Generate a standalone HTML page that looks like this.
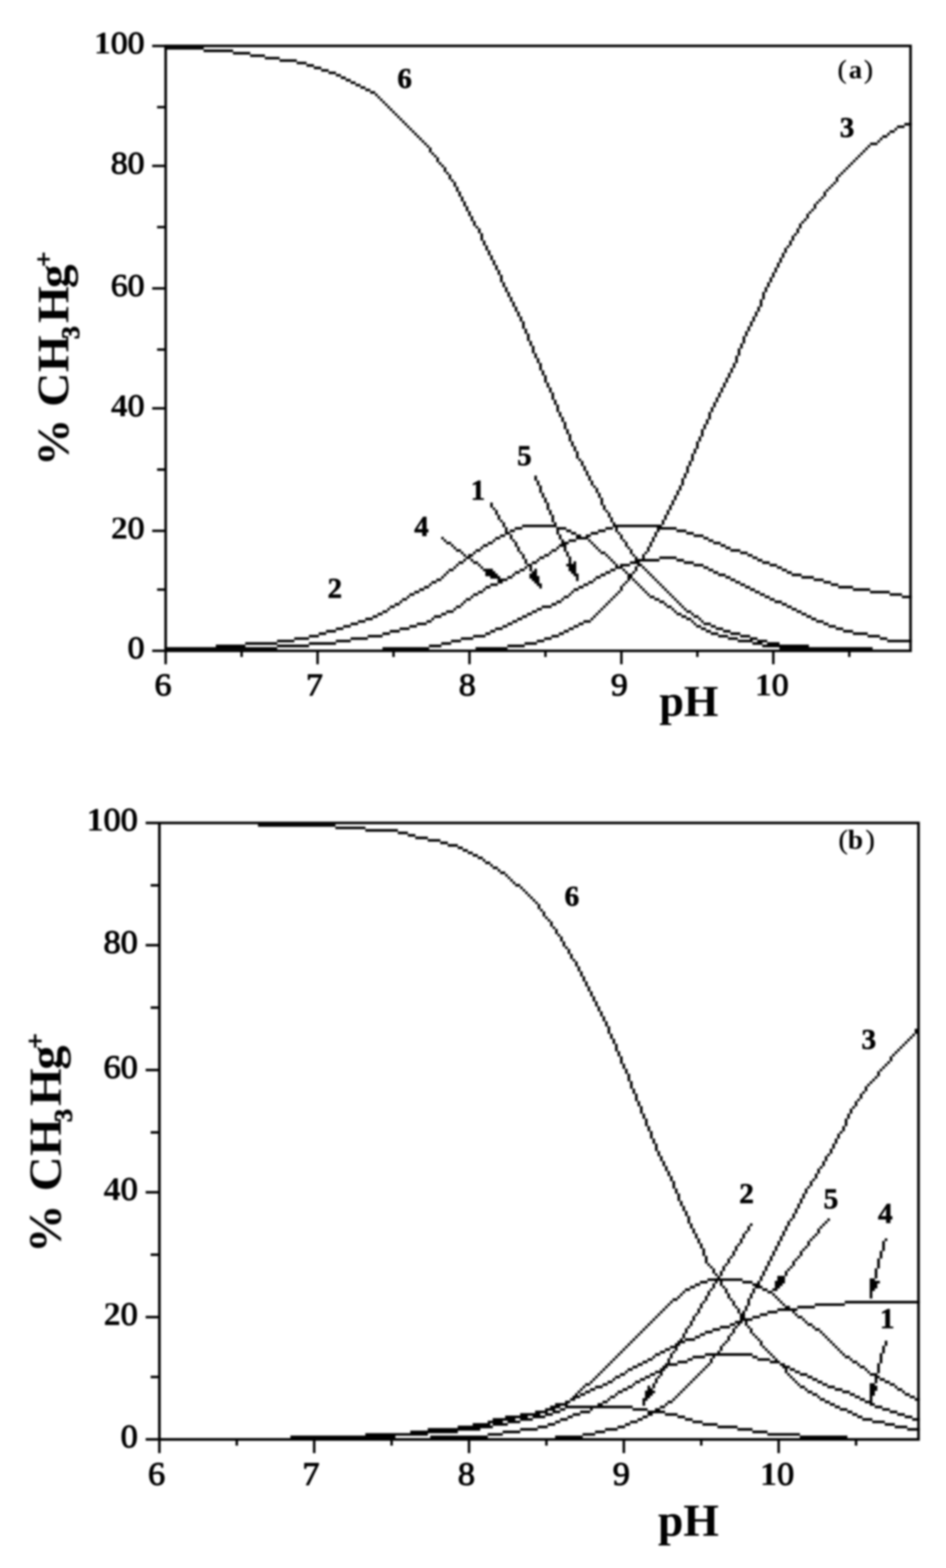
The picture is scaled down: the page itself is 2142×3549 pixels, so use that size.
<!DOCTYPE html>
<html lang="en"><head><meta charset="utf-8"><title>Species distribution of CH3Hg+ versus pH</title>
<style>html,body{margin:0;padding:0;background:#fff}body{width:2142px;height:3549px;overflow:hidden}svg{display:block}text{font-family:'Liberation Serif', 'DejaVu Serif', serif;font-weight:bold;fill:#000}.l{font-weight:normal;stroke:#000;stroke-width:2.2;stroke-linejoin:round}.n{font-weight:normal}.s{stroke:#000;stroke-width:1.5}.c{stroke:#000;stroke-width:1.2}.p{font-weight:normal;stroke:#000;stroke-width:1.0}</style>
</head><body>
<svg xmlns="http://www.w3.org/2000/svg" width="2142" height="3549" viewBox="0 0 2142 3549">
<defs><filter id="bl" x="0" y="0" width="2142" height="3549" filterUnits="userSpaceOnUse" color-interpolation-filters="sRGB"><feGaussianBlur stdDeviation="2.0"/></filter></defs>
<rect width="2142" height="3549" fill="#fff"/>
<g filter="url(#bl)">
<g id="chart-a">
<path d="M372.18 100.98h1692.44v5.84h-1692.44zM372.18 1470.17h1692.44v5.84h-1692.44zM372.18 100.98h5.85v1375.04h-5.85zM2058.77 100.98h5.85v1375.04h-5.85zM344.59 101.13h27.74v5.54h-27.74zM355.68 239.71h16.64v5.54h-16.64zM344.59 372.75h27.74v5.54h-27.74zM355.68 511.33h16.64v5.54h-16.64zM344.59 649.92h27.74v5.54h-27.74zM355.68 788.5h16.64v5.54h-16.64zM344.59 921.54h27.74v5.54h-27.74zM355.68 1060.12h16.64v5.54h-16.64zM344.59 1198.7h27.74v5.54h-27.74zM355.68 1331.74h16.64v5.54h-16.64zM344.59 1470.32h27.74v5.54h-27.74zM372.33 1475.87h5.55v27.72h-5.55zM544.31 1475.87h5.55v11.09h-5.55zM716.3 1475.87h5.55v27.72h-5.55zM888.29 1475.87h5.55v11.09h-5.55zM1060.28 1475.87h5.55v27.72h-5.55zM1232.27 1475.87h5.55v11.09h-5.55zM1404.25 1475.87h5.55v27.72h-5.55zM1576.24 1475.87h5.55v11.09h-5.55zM1748.23 1475.87h5.55v27.72h-5.55zM1920.22 1475.87h5.55v11.09h-5.55z" fill="#000"/>
<path d="M871.5 234.02h5.85v5.84h-5.85zM488.68 1459.09h66.88v5.84h-66.88zM627.38 1459.09h72.42v5.84h-72.42zM971.36 1459.09h28.04v5.84h-28.04zM1148.9 1459.09h39.14v5.84h-39.14zM1725.89 1459.09h105.71v5.84h-105.71zM632.93 134.24h39.14v5.84h-39.14zM1298.69 1010.08h5.85v11.39h-5.85zM1576.09 998.99h5.85v16.93h-5.85zM1010.2 389.23h5.85v5.84h-5.85zM1010.2 1292.79h5.85v5.84h-5.85zM1165.54 1292.79h11.4v5.84h-11.4zM1370.82 1292.79h11.4v5.84h-11.4zM1415.2 1226.27h5.85v11.39h-5.85zM1415.2 1292.79h5.85v5.84h-5.85zM1415.2 1314.96h5.85v5.84h-5.85zM1431.84 1253.98h5.85v5.84h-5.85zM1431.84 1292.79h5.85v5.84h-5.85zM1431.84 1309.42h5.85v5.84h-5.85zM1465.13 1237.35h5.85v11.39h-5.85zM1465.13 1292.79h5.85v5.84h-5.85zM1465.13 1342.68h5.85v5.84h-5.85zM1614.93 1292.79h11.4v5.84h-11.4zM1781.37 1292.79h11.4v5.84h-11.4zM1781.37 1370.39h11.4v5.84h-11.4zM1165.54 1193.01h16.94v5.84h-16.94zM1259.86 1193.01h22.49v5.84h-22.49zM1370.82 1193.01h16.94v5.84h-16.94zM1393.01 1193.01h5.85v11.39h-5.85zM1393.01 1276.16h5.85v5.84h-5.85zM1393.01 1342.68h5.85v5.84h-5.85zM1487.32 1193.01h44.68v5.84h-44.68zM555.26 1453.54h72.42v5.84h-72.42zM699.51 1453.54h61.33v5.84h-61.33zM999.1 1453.54h22.49v5.84h-22.49zM1187.73 1453.54h28.04v5.84h-28.04zM1703.7 1453.54h22.49v5.84h-22.49zM1736.98 1453.54h28.04v5.84h-28.04zM1182.18 1187.47h77.97v5.84h-77.97zM1387.46 1187.47h111.26v5.84h-111.26zM877.04 239.56h5.85v5.84h-5.85zM877.04 1375.94h5.85v5.84h-5.85zM999.1 372.6h5.85v5.84h-5.85zM999.1 1303.87h5.85v5.84h-5.85zM1148.9 1303.87h11.4v5.84h-11.4zM1148.9 1409.2h11.4v5.84h-11.4zM1348.62 1303.87h11.4v5.84h-11.4zM1420.75 1298.33h11.4v11.39h-11.4zM1476.23 1215.18h5.85v11.39h-5.85zM1476.23 1303.87h5.85v5.84h-5.85zM1642.67 1237.35h11.4v5.84h-11.4zM1642.67 1303.87h11.4v5.84h-11.4zM1814.66 1303.87h28.04v5.84h-28.04zM372.18 1464.63h255.51v5.84h-255.51zM865.95 1464.63h105.71v5.84h-105.71zM1076.77 1464.63h72.42v5.84h-72.42zM1764.72 1464.63h211.12v5.84h-211.12zM527.52 117.61h39.14v5.84h-39.14zM1015.74 394.77h5.85v11.39h-5.85zM1892.33 400.32h5.85v11.39h-5.85zM827.11 1398.11h16.94v5.84h-16.94zM976.91 344.88h5.85v5.84h-5.85zM976.91 1398.11h5.85v5.84h-5.85zM1171.09 1398.11h11.4v5.84h-11.4zM1337.53 1087.69h5.85v11.39h-5.85zM1337.53 1226.27h5.85v5.84h-5.85zM1337.53 1398.11h5.85v5.84h-5.85zM1553.9 1381.48h11.4v5.84h-11.4zM1553.9 1398.11h11.4v5.84h-11.4zM1581.64 987.91h5.85v11.39h-5.85zM1581.64 1398.11h5.85v5.84h-5.85zM1836.85 1398.11h11.4v5.84h-11.4zM1037.94 1270.61h11.4v5.84h-11.4zM1204.38 1270.61h11.4v5.84h-11.4zM1204.38 1381.48h11.4v5.84h-11.4zM1387.46 1181.92h5.85v5.84h-5.85zM1387.46 1270.61h5.85v5.84h-5.85zM1387.46 1348.22h5.85v5.84h-5.85zM1426.3 1270.61h22.49v5.84h-22.49zM1548.35 1270.61h22.49v5.84h-22.49zM1725.89 1270.61h16.94v5.84h-16.94zM1132.25 622.05h5.85v16.93h-5.85zM1742.53 627.59h5.85v11.39h-5.85zM627.38 1448h39.14v5.84h-39.14zM760.54 1448h33.59v5.84h-33.59zM1021.29 1448h22.49v5.84h-22.49zM1215.47 1448h16.94v5.84h-16.94zM1670.41 1448h33.59v5.84h-33.59zM1714.79 1448h22.49v5.84h-22.49zM2008.84 1448h55.78v5.84h-55.78zM721.7 1431.37h16.94v5.84h-16.94zM865.95 1431.37h16.94v5.84h-16.94zM1098.96 1326.05h11.4v5.84h-11.4zM1098.96 1431.37h11.4v5.84h-11.4zM1265.4 1231.81h11.4v5.84h-11.4zM1265.4 1431.37h11.4v5.84h-11.4zM1609.38 1431.37h16.94v5.84h-16.94zM1653.76 1242.9h22.49v5.84h-22.49zM1653.76 1431.37h22.49v5.84h-22.49zM1931.16 1431.37h33.59v5.84h-33.59zM1021.29 405.86h5.85v5.84h-5.85zM1037.94 433.58h5.85v11.39h-5.85zM1864.59 433.58h5.85v11.39h-5.85zM666.22 1442.46h33.59v5.84h-33.59zM793.82 1442.46h39.14v5.84h-39.14zM1043.48 1442.46h28.04v5.84h-28.04zM1232.12 1442.46h16.94v5.84h-16.94zM1648.22 1442.46h22.49v5.84h-22.49zM1698.15 1442.46h16.94v5.84h-16.94zM1992.19 1442.46h16.94v5.84h-16.94zM882.59 1370.39h11.4v5.84h-11.4zM1032.39 1370.39h11.4v5.84h-11.4zM1226.57 1370.39h22.49v5.84h-22.49zM1365.27 1143.12h5.85v11.39h-5.85zM1365.27 1370.39h5.85v5.84h-5.85zM1509.52 1370.39h11.4v5.84h-11.4zM1542.8 1082.14h5.85v16.93h-5.85zM1542.8 1370.39h5.85v5.84h-5.85zM810.47 1403.65h16.94v5.84h-16.94zM965.81 1403.65h11.4v5.84h-11.4zM1159.99 1403.65h11.4v5.84h-11.4zM1320.88 1403.65h16.94v5.84h-16.94zM1565 1026.71h5.85v16.93h-5.85zM1565 1387.02h5.85v5.84h-5.85zM1565 1403.65h5.85v5.84h-5.85zM1587.19 971.28h5.85v16.93h-5.85zM1587.19 1403.65h5.85v5.84h-5.85zM1847.94 1403.65h16.94v5.84h-16.94zM854.85 1387.02h11.4v5.84h-11.4zM999.1 1387.02h11.4v5.84h-11.4zM1193.28 1276.16h11.4v5.84h-11.4zM1193.28 1387.02h11.4v5.84h-11.4zM1348.62 1104.32h5.85v11.39h-5.85zM1348.62 1237.35h5.85v5.84h-5.85zM1348.62 1387.02h5.85v5.84h-5.85zM1531.71 1387.02h11.4v5.84h-11.4zM1814.66 1387.02h11.4v5.84h-11.4zM926.98 1342.68h11.4v5.84h-11.4zM1071.22 1342.68h11.4v5.84h-11.4zM1287.6 982.36h5.85v16.93h-5.85zM1287.6 1342.68h5.85v5.84h-5.85zM1515.06 1143.12h5.85v11.39h-5.85zM1515.06 1342.68h5.85v5.84h-5.85zM1720.34 1342.68h11.4v5.84h-11.4zM2014.38 1342.68h28.04v5.84h-28.04zM1060.13 477.92h5.85v11.39h-5.85zM1831.3 477.92h5.85v5.84h-5.85zM372.18 106.52h89.07v5.84h-89.07zM921.43 283.91h5.85v5.84h-5.85zM921.43 1348.22h5.85v5.84h-5.85zM1065.68 489.01h5.85v11.39h-5.85zM1065.68 1348.22h5.85v5.84h-5.85zM1276.5 1226.27h11.4v5.84h-11.4zM1276.5 1348.22h11.4v5.84h-11.4zM1276.5 1425.83h11.4v5.84h-11.4zM1470.68 1348.22h11.4v5.84h-11.4zM1520.61 1132.03h5.85v11.39h-5.85zM1520.61 1348.22h5.85v5.84h-5.85zM1520.61 1375.94h5.85v5.84h-5.85zM1731.44 1348.22h11.4v5.84h-11.4zM2042.12 1348.22h22.49v5.84h-22.49zM988 1309.42h11.4v5.84h-11.4zM1137.8 1309.42h11.4v5.84h-11.4zM1137.8 1414.74h11.4v5.84h-11.4zM1343.08 1098.77h5.85v5.84h-5.85zM1343.08 1231.81h5.85v5.84h-5.85zM1343.08 1309.42h5.85v5.84h-5.85zM1343.08 1392.57h5.85v5.84h-5.85zM1420.75 1237.35h5.85v5.84h-5.85zM1420.75 1309.42h5.85v5.84h-5.85zM1481.78 1204.1h5.85v11.39h-5.85zM1481.78 1309.42h5.85v5.84h-5.85zM1653.76 1309.42h11.4v5.84h-11.4zM1842.4 1309.42h22.49v5.84h-22.49zM760.54 1420.28h16.94v5.84h-16.94zM904.78 1420.28h22.49v5.84h-22.49zM1121.16 1420.28h16.94v5.84h-16.94zM1287.6 1420.28h11.4v5.84h-11.4zM1587.19 1420.28h11.4v5.84h-11.4zM1620.48 1420.28h16.94v5.84h-16.94zM1892.33 1420.28h16.94v5.84h-16.94zM1104.51 1226.27h11.4v5.84h-11.4zM1470.68 1226.27h5.85v11.39h-5.85zM1470.68 1298.33h5.85v5.84h-5.85zM1614.93 1226.27h16.94v5.84h-16.94zM699.51 1436.91h22.49v5.84h-22.49zM832.66 1436.91h33.59v5.84h-33.59zM1071.22 1436.91h28.04v5.84h-28.04zM1248.76 1436.91h16.94v5.84h-16.94zM1626.02 1436.91h22.49v5.84h-22.49zM1675.96 1436.91h22.49v5.84h-22.49zM1964.45 1436.91h28.04v5.84h-28.04zM1176.64 716.28h5.85v11.39h-5.85zM1703.7 716.28h5.85v11.39h-5.85zM566.36 123.15h33.59v5.84h-33.59zM938.07 1337.13h11.4v5.84h-11.4zM1082.32 1337.13h11.4v5.84h-11.4zM1293.14 998.99h5.85v11.39h-5.85zM1293.14 1337.13h5.85v5.84h-5.85zM1398.56 1204.1h5.85v5.84h-5.85zM1398.56 1337.13h5.85v5.84h-5.85zM1459.58 1248.44h5.85v5.84h-5.85zM1459.58 1287.24h5.85v5.84h-5.85zM1459.58 1337.13h5.85v5.84h-5.85zM1509.52 1154.21h5.85v11.39h-5.85zM1509.52 1337.13h5.85v5.84h-5.85zM1709.24 1337.13h11.4v5.84h-11.4zM1970 1337.13h44.68v5.84h-44.68zM1032.39 422.49h5.85v11.39h-5.85zM1032.39 1276.16h5.85v5.84h-5.85zM1870.14 428.03h5.85v5.84h-5.85zM1054.58 466.84h5.85v11.39h-5.85zM1054.58 1259.53h5.85v5.84h-5.85zM1221.02 1259.53h11.4v5.84h-11.4zM1376.36 1159.75h5.85v11.39h-5.85zM1376.36 1259.53h5.85v5.84h-5.85zM1376.36 1359.31h5.85v5.84h-5.85zM1437.39 1259.53h5.85v5.84h-5.85zM1437.39 1281.7h5.85v11.39h-5.85zM1437.39 1314.96h5.85v5.84h-5.85zM1454.04 1253.98h5.85v11.39h-5.85zM1454.04 1281.7h5.85v5.84h-5.85zM1454.04 1331.59h5.85v5.84h-5.85zM1492.87 1259.53h39.14v5.84h-39.14zM1703.7 1259.53h11.4v5.84h-11.4zM1404.1 1276.16h22.49v5.84h-22.49zM1442.94 1276.16h11.4v5.84h-11.4zM1570.54 1209.64h22.49v5.84h-22.49zM1570.54 1276.16h22.49v5.84h-22.49zM1742.53 1276.16h16.94v5.84h-16.94zM1265.4 932.47h5.85v11.39h-5.85zM1603.83 932.47h5.85v16.93h-5.85zM1209.92 799.43h5.85v11.39h-5.85zM1664.86 804.98h5.85v16.93h-5.85zM1071.22 500.1h5.85v11.39h-5.85zM1071.22 1248.44h5.85v5.84h-5.85zM1243.21 877.04h5.85v11.39h-5.85zM1243.21 1248.44h5.85v5.84h-5.85zM1359.72 1248.44h11.4v5.84h-11.4zM1359.72 1298.33h11.4v5.84h-11.4zM1426.3 1242.9h5.85v11.39h-5.85zM1675.96 1248.44h16.94v5.84h-16.94zM1049.03 455.75h5.85v11.39h-5.85zM1049.03 1265.07h5.85v5.84h-5.85zM1049.03 1359.31h5.85v5.84h-5.85zM1215.47 810.52h5.85v11.39h-5.85zM1215.47 1265.07h5.85v5.84h-5.85zM1381.91 1170.84h5.85v11.39h-5.85zM1381.91 1265.07h5.85v5.84h-5.85zM1381.91 1353.76h5.85v5.84h-5.85zM1437.39 1265.07h55.78v5.84h-55.78zM1531.71 1265.07h16.94v5.84h-16.94zM1714.79 1265.07h11.4v5.84h-11.4zM793.82 1409.2h16.94v5.84h-16.94zM943.62 1409.2h22.49v5.84h-22.49zM1309.79 1326.05h11.4v5.84h-11.4zM1309.79 1409.2h11.4v5.84h-11.4zM1570.54 1015.62h5.85v11.39h-5.85zM1570.54 1409.2h5.85v5.84h-5.85zM1592.74 1409.2h16.94v5.84h-16.94zM1864.59 1409.2h11.4v5.84h-11.4zM1631.57 877.04h5.85v11.39h-5.85zM1182.18 727.37h5.85v16.93h-5.85zM1698.15 727.37h5.85v11.39h-5.85zM1248.76 888.13h5.85v16.93h-5.85zM1620.48 899.21h5.85v11.39h-5.85zM865.95 1381.48h11.4v5.84h-11.4zM1010.2 1381.48h16.94v5.84h-16.94zM1354.17 1115.4h5.85v11.39h-5.85zM1354.17 1242.9h5.85v5.84h-5.85zM1354.17 1381.48h5.85v5.84h-5.85zM1526.16 1120.95h5.85v11.39h-5.85zM1526.16 1353.76h5.85v5.84h-5.85zM1526.16 1381.48h5.85v5.84h-5.85zM1803.56 1381.48h11.4v5.84h-11.4zM904.78 267.28h5.85v5.84h-5.85zM904.78 1359.31h5.85v5.84h-5.85zM1259.86 1359.31h11.4v5.84h-11.4zM1492.87 1359.31h11.4v5.84h-11.4zM1531.71 1109.86h5.85v11.39h-5.85zM1531.71 1359.31h5.85v5.84h-5.85zM1753.63 1359.31h16.94v5.84h-16.94zM460.94 112.06h66.88v5.84h-66.88zM843.76 1392.57h11.4v5.84h-11.4zM982.46 1392.57h16.94v5.84h-16.94zM1182.18 1392.57h11.4v5.84h-11.4zM1542.8 1392.57h11.4v5.84h-11.4zM1570.54 1392.57h11.4v5.84h-11.4zM1825.75 1392.57h11.4v5.84h-11.4zM1004.65 378.14h5.85v11.39h-5.85zM1004.65 1298.33h5.85v5.84h-5.85zM1159.99 683.02h5.85v11.39h-5.85zM1159.99 1298.33h5.85v5.84h-5.85zM1626.02 1298.33h16.94v5.84h-16.94zM1792.46 1298.33h22.49v5.84h-22.49zM1254.31 904.76h5.85v11.39h-5.85zM1226.57 838.24h5.85v11.39h-5.85zM1653.76 832.69h5.85v11.39h-5.85zM971.36 333.8h5.85v11.39h-5.85zM971.36 1320.5h5.85v5.84h-5.85zM1110.06 1320.5h16.94v5.84h-16.94zM1320.88 1320.5h11.4v5.84h-11.4zM1409.65 1220.72h5.85v5.84h-5.85zM1409.65 1287.24h5.85v5.84h-5.85zM1409.65 1320.5h5.85v5.84h-5.85zM1442.94 1320.5h5.85v5.84h-5.85zM1492.87 1320.5h5.85v5.84h-5.85zM1675.96 1320.5h11.4v5.84h-11.4zM1881.23 1320.5h16.94v5.84h-16.94zM960.26 1326.05h11.4v5.84h-11.4zM1404.1 1209.64h5.85v11.39h-5.85zM1404.1 1326.05h5.85v11.39h-5.85zM1448.49 1326.05h5.85v5.84h-5.85zM1498.42 1176.38h5.85v11.39h-5.85zM1498.42 1326.05h5.85v5.84h-5.85zM1687.05 1326.05h11.4v5.84h-11.4zM1897.88 1326.05h33.59v5.84h-33.59zM1015.74 1287.24h11.4v5.84h-11.4zM1176.64 1287.24h11.4v5.84h-11.4zM1381.91 1287.24h11.4v5.84h-11.4zM1603.83 1220.72h11.4v5.84h-11.4zM1603.83 1287.24h11.4v5.84h-11.4zM1770.27 1287.24h11.4v5.84h-11.4zM1770.27 1364.85h11.4v5.84h-11.4zM738.34 1425.83h22.49v5.84h-22.49zM882.59 1425.83h22.49v5.84h-22.49zM1110.06 1425.83h11.4v5.84h-11.4zM1598.28 1425.83h11.4v5.84h-11.4zM1637.12 1425.83h16.94v5.84h-16.94zM1908.97 1425.83h22.49v5.84h-22.49zM1115.61 588.79h5.85v11.39h-5.85zM1115.61 1220.72h5.85v5.84h-5.85zM1287.6 1220.72h16.94v5.84h-16.94zM1331.98 1076.6h5.85v11.39h-5.85zM1331.98 1220.72h5.85v5.84h-5.85zM1154.44 1198.55h11.4v5.84h-11.4zM1282.05 1198.55h11.4v5.84h-11.4zM1354.17 1198.55h16.94v5.84h-16.94zM1487.32 1198.55h5.85v5.84h-5.85zM1487.32 1314.96h5.85v5.84h-5.85zM1531.71 1198.55h22.49v5.84h-22.49zM827.11 200.76h11.4v5.84h-11.4zM976.91 1314.96h11.4v5.84h-11.4zM1126.7 1314.96h11.4v5.84h-11.4zM1331.98 1314.96h11.4v5.84h-11.4zM1664.86 1314.96h11.4v5.84h-11.4zM1864.59 1314.96h16.94v5.84h-16.94zM1110.06 577.7h5.85v11.39h-5.85zM1764.72 583.25h5.85v11.39h-5.85zM1825.75 483.47h5.85v11.39h-5.85zM910.33 1353.76h11.4v5.84h-11.4zM1054.58 1353.76h11.4v5.84h-11.4zM1270.95 943.56h5.85v11.39h-5.85zM1270.95 1353.76h5.85v5.84h-5.85zM1481.78 1353.76h11.4v5.84h-11.4zM1742.53 1353.76h11.4v5.84h-11.4zM777.18 1414.74h16.94v5.84h-16.94zM926.98 1414.74h16.94v5.84h-16.94zM1298.69 1331.59h11.4v5.84h-11.4zM1298.69 1414.74h11.4v5.84h-11.4zM1576.09 1414.74h11.4v5.84h-11.4zM1609.38 1414.74h11.4v5.84h-11.4zM1875.68 1414.74h16.94v5.84h-16.94zM949.17 1331.59h11.4v5.84h-11.4zM1093.42 544.44h5.85v11.39h-5.85zM1093.42 1331.59h5.85v5.84h-5.85zM1503.97 1165.29h5.85v11.39h-5.85zM1503.97 1331.59h5.85v5.84h-5.85zM1503.97 1364.85h5.85v5.84h-5.85zM1698.15 1331.59h11.4v5.84h-11.4zM1931.16 1331.59h39.14v5.84h-39.14zM1537.26 1098.77h5.85v11.39h-5.85zM1537.26 1364.85h5.85v5.84h-5.85zM816.02 195.21h11.4v5.84h-11.4zM1026.84 411.4h5.85v11.39h-5.85zM1026.84 1281.7h5.85v5.84h-5.85zM1026.84 1375.94h5.85v5.84h-5.85zM1187.73 744h5.85v11.39h-5.85zM1187.73 1281.7h5.85v5.84h-5.85zM1393.01 1281.7h16.94v5.84h-16.94zM1592.74 1215.18h11.4v5.84h-11.4zM1592.74 1281.7h11.4v5.84h-11.4zM1759.18 1281.7h11.4v5.84h-11.4zM782.73 178.58h11.4v5.84h-11.4zM888.14 250.65h5.85v5.84h-5.85zM727.25 156.41h16.94v5.84h-16.94zM743.89 161.95h16.94v5.84h-16.94zM1886.78 411.4h5.85v5.84h-5.85zM1126.7 610.96h5.85v11.39h-5.85zM1753.63 605.42h5.85v11.39h-5.85zM1204.38 782.8h5.85v16.93h-5.85zM1670.41 788.35h5.85v16.93h-5.85zM1137.8 638.68h5.85v11.39h-5.85zM1736.98 638.68h5.85v11.39h-5.85zM1087.87 527.81h5.85v16.93h-5.85zM1087.87 1237.35h5.85v5.84h-5.85zM1259.86 915.84h5.85v16.93h-5.85zM1259.86 1237.35h5.85v5.84h-5.85zM1914.52 378.14h5.85v5.84h-5.85zM1809.11 505.64h5.85v11.39h-5.85zM1626.02 888.13h5.85v11.39h-5.85zM1165.54 694.11h5.85v11.39h-5.85zM1714.79 694.11h5.85v11.39h-5.85zM1043.48 444.66h5.85v11.39h-5.85zM1043.48 1364.85h5.85v5.84h-5.85zM1859.04 444.66h5.85v5.84h-5.85zM1121.16 1215.18h11.4v5.84h-11.4zM1304.24 1215.18h28.04v5.84h-28.04zM1221.02 821.61h5.85v16.93h-5.85zM1659.31 821.61h5.85v11.39h-5.85zM1143.35 1204.1h11.4v5.84h-11.4zM1293.14 1204.1h11.4v5.84h-11.4zM1337.53 1204.1h16.94v5.84h-16.94zM1553.9 1204.1h16.94v5.84h-16.94zM893.69 1364.85h11.4v5.84h-11.4zM1248.76 1242.9h11.4v5.84h-11.4zM1248.76 1364.85h11.4v5.84h-11.4zM1370.82 1154.21h5.85v5.84h-5.85zM1370.82 1253.98h5.85v5.84h-5.85zM1370.82 1364.85h5.85v5.84h-5.85zM2031.03 283.91h16.94v5.84h-16.94zM1842.4 461.29h5.85v11.39h-5.85zM1953.36 339.34h5.85v5.84h-5.85zM926.98 289.45h5.85v5.84h-5.85zM2025.48 289.45h5.85v5.84h-5.85zM1792.46 533.36h5.85v11.39h-5.85zM1104.51 566.62h5.85v11.39h-5.85zM1775.82 561.07h5.85v11.39h-5.85zM943.62 306.08h5.85v5.84h-5.85zM1997.74 306.08h11.4v5.84h-11.4zM1282.05 971.28h5.85v11.39h-5.85zM1276.5 954.65h5.85v16.93h-5.85zM1592.74 960.19h5.85v11.39h-5.85zM1143.35 649.77h5.85v11.39h-5.85zM1731.44 649.77h5.85v11.39h-5.85zM1076.77 1242.9h11.4v5.84h-11.4zM1720.34 677.48h5.85v16.93h-5.85zM1215.47 1375.94h11.4v5.84h-11.4zM1359.72 1126.49h5.85v16.93h-5.85zM1359.72 1375.94h5.85v5.84h-5.85zM1548.35 1071.06h5.85v11.39h-5.85zM1548.35 1375.94h5.85v5.84h-5.85zM1792.46 1375.94h11.4v5.84h-11.4zM1198.83 771.72h5.85v11.39h-5.85zM1675.96 777.26h5.85v11.39h-5.85zM710.6 150.87h16.94v5.84h-16.94zM854.85 217.39h5.85v5.84h-5.85zM1237.66 865.95h5.85v11.39h-5.85zM1637.12 865.95h5.85v11.39h-5.85zM1836.85 472.38h5.85v5.84h-5.85zM954.72 317.17h5.85v5.84h-5.85zM1986.64 317.17h5.85v5.84h-5.85zM1614.93 910.3h5.85v11.39h-5.85zM993.55 367.06h5.85v5.84h-5.85zM1925.62 367.06h5.85v5.84h-5.85zM1060.13 1253.98h11.4v5.84h-11.4zM1232.12 1253.98h11.4v5.84h-11.4zM1692.6 1253.98h11.4v5.84h-11.4zM1681.5 760.63h5.85v16.93h-5.85zM915.88 278.36h5.85v5.84h-5.85zM2047.67 278.36h16.94v5.84h-16.94zM1304.24 1021.17h5.85v16.93h-5.85zM1786.92 544.44h5.85v11.39h-5.85zM932.52 294.99h5.85v5.84h-5.85zM2014.38 294.99h11.4v5.84h-11.4zM1148.9 660.85h5.85v11.39h-5.85zM1725.89 660.85h5.85v16.93h-5.85zM1315.34 1043.34h5.85v11.39h-5.85zM1559.45 1043.34h5.85v11.39h-5.85zM938.07 300.54h5.85v5.84h-5.85zM2008.84 300.54h5.85v5.84h-5.85zM1881.23 416.95h5.85v5.84h-5.85zM771.63 173.04h11.4v5.84h-11.4zM1853.49 450.21h5.85v5.84h-5.85zM965.81 328.25h5.85v5.84h-5.85zM1964.45 328.25h5.85v5.84h-5.85zM1326.43 1065.51h5.85v11.39h-5.85zM1132.25 1209.64h11.4v5.84h-11.4zM1304.24 1209.64h11.4v5.84h-11.4zM1326.43 1209.64h11.4v5.84h-11.4zM1154.44 671.94h5.85v11.39h-5.85zM1958.9 333.8h5.85v5.84h-5.85zM1193.28 755.09h5.85v16.93h-5.85zM1609.38 921.39h5.85v11.39h-5.85zM1232.12 849.32h5.85v16.93h-5.85zM1642.67 854.87h5.85v11.39h-5.85zM865.95 228.47h5.85v5.84h-5.85zM1814.66 500.1h5.85v5.84h-5.85zM988 355.97h5.85v11.39h-5.85zM1931.16 361.51h5.85v5.84h-5.85zM671.77 139.78h22.49v5.84h-22.49zM1908.97 383.69h5.85v5.84h-5.85zM599.64 128.69h33.59v5.84h-33.59zM1692.6 738.46h5.85v11.39h-5.85zM899.24 261.73h5.85v5.84h-5.85zM1847.94 455.75h5.85v5.84h-5.85zM1082.32 516.73h5.85v11.39h-5.85zM1803.56 516.73h5.85v11.39h-5.85zM1748.08 616.51h5.85v11.39h-5.85zM1320.88 1054.43h5.85v11.39h-5.85zM1553.9 1054.43h5.85v16.93h-5.85zM1598.28 949.1h5.85v11.39h-5.85zM1121.16 599.88h5.85v11.39h-5.85zM1171.09 705.2h5.85v11.39h-5.85zM1709.24 705.2h5.85v11.39h-5.85zM1098.96 555.53h5.85v11.39h-5.85zM1920.07 372.6h5.85v5.84h-5.85zM910.33 272.82h5.85v5.84h-5.85zM1687.05 749.54h5.85v11.39h-5.85zM1759.18 594.33h5.85v11.39h-5.85zM1093.42 1231.81h11.4v5.84h-11.4zM1631.57 1231.81h11.4v5.84h-11.4zM1648.22 843.78h5.85v11.39h-5.85zM1770.27 572.16h5.85v11.39h-5.85zM1903.42 389.23h5.85v5.84h-5.85zM1875.68 422.49h5.85v5.84h-5.85zM1897.88 394.77h5.85v5.84h-5.85zM949.17 311.62h5.85v5.84h-5.85zM1992.19 311.62h5.85v5.84h-5.85zM982.46 350.43h5.85v5.84h-5.85zM1942.26 350.43h5.85v5.84h-5.85zM693.96 145.32h16.94v5.84h-16.94zM1076.77 511.18h5.85v5.84h-5.85zM838.21 206.3h11.4v5.84h-11.4zM849.3 211.84h5.85v5.84h-5.85zM804.92 189.67h11.4v5.84h-11.4zM760.54 167.5h11.4v5.84h-11.4zM882.59 245.1h5.85v5.84h-5.85zM960.26 322.71h5.85v5.84h-5.85zM1970 322.71h16.94v5.84h-16.94zM1820.2 494.55h5.85v5.84h-5.85zM1781.37 555.53h5.85v5.84h-5.85zM893.69 256.19h5.85v5.84h-5.85zM793.82 184.13h11.4v5.84h-11.4zM1309.79 1037.8h5.85v5.84h-5.85zM1947.81 344.88h5.85v5.84h-5.85zM1936.71 355.97h5.85v5.84h-5.85zM860.4 222.93h5.85v5.84h-5.85zM1798.01 527.81h5.85v5.84h-5.85z" fill="#000"/>
<path d="M1093.42 1287.24h22.49v5.84h-22.49zM1198.83 1281.7h5.85v11.39h-5.85zM1209.92 1076.6h5.85v11.39h-5.85zM1209.92 1287.24h5.85v5.84h-5.85zM1287.6 1281.7h16.94v11.39h-16.94zM1143.35 1193.01h5.85v11.39h-5.85zM1259.86 1193.01h5.85v16.93h-5.85zM1087.87 1281.7h5.85v5.84h-5.85zM1049.03 1253.98h5.85v5.84h-5.85zM1182.18 1253.98h5.85v11.39h-5.85zM1282.05 1248.44h5.85v11.39h-5.85zM1054.58 1259.53h11.4v5.84h-11.4zM1287.6 1259.53h5.85v16.93h-5.85zM1115.61 1148.66h5.85v5.84h-5.85zM1237.66 1137.58h5.85v16.93h-5.85zM1110.06 1137.58h5.85v11.39h-5.85zM1004.65 1220.72h5.85v5.84h-5.85zM1159.99 1220.72h5.85v5.84h-5.85zM1270.95 1220.72h5.85v11.39h-5.85zM1154.44 1209.64h5.85v11.39h-5.85zM1265.4 1209.64h5.85v11.39h-5.85zM1082.32 1276.16h5.85v5.84h-5.85zM1193.28 1276.16h5.85v5.84h-5.85zM1282.05 1276.16h22.49v5.84h-22.49zM1032.39 1242.9h11.4v5.84h-11.4zM1171.09 1237.35h5.85v11.39h-5.85zM1276.5 1231.81h5.85v16.93h-5.85zM1026.84 1237.35h5.85v5.84h-5.85zM1010.2 1226.27h11.4v5.84h-11.4zM1165.54 1226.27h5.85v11.39h-5.85zM1126.7 1309.42h11.4v5.84h-11.4zM1204.38 1309.42h16.94v5.84h-16.94zM1304.24 1303.87h5.85v11.39h-5.85zM1126.7 1165.29h5.85v11.39h-5.85zM1248.76 1165.29h5.85v16.93h-5.85zM1065.68 1265.07h5.85v5.84h-5.85zM1187.73 1265.07h5.85v11.39h-5.85zM1110.06 1303.87h22.49v5.84h-22.49zM1198.83 1303.87h22.49v5.84h-22.49zM1098.96 1298.33h28.04v5.84h-28.04zM1198.83 1298.33h16.94v5.84h-16.94zM1298.69 1298.33h11.4v5.84h-11.4zM1215.47 1087.69h5.85v11.39h-5.85zM1043.48 1248.44h5.85v5.84h-5.85zM1176.64 1248.44h5.85v5.84h-5.85zM1132.25 1176.38h5.85v5.84h-5.85zM1132.25 1314.96h5.85v5.84h-5.85zM1209.92 1314.96h11.4v5.84h-11.4zM1098.96 1292.79h22.49v5.84h-22.49zM1204.38 1292.79h11.4v5.84h-11.4zM1293.14 1292.79h11.4v5.84h-11.4zM1226.57 1115.4h5.85v11.39h-5.85zM1137.8 1181.92h5.85v11.39h-5.85zM1254.31 1181.92h5.85v11.39h-5.85zM1071.22 1270.61h11.4v5.84h-11.4zM1298.69 1270.61h5.85v5.84h-5.85zM1232.12 1126.49h5.85v11.39h-5.85zM1021.29 1231.81h5.85v5.84h-5.85zM999.1 1215.18h5.85v5.84h-5.85zM1221.02 1098.77h5.85v16.93h-5.85zM1221.02 1326.05h5.85v5.84h-5.85zM1148.9 1204.1h5.85v5.84h-5.85zM1121.16 1154.21h5.85v11.39h-5.85zM1243.21 1154.21h5.85v11.39h-5.85zM1215.47 1320.5h11.4v5.84h-11.4z" fill="#000"/>
</g>
<g id="chart-b">
<path d="M357.92 1859.63h1724.77v5.95h-1724.77zM357.92 3254.93h1724.77v5.95h-1724.77zM357.92 1859.63h5.95v1401.25h-5.95zM2076.74 1859.63h5.95v1401.25h-5.95zM329.8 1859.78h28.27v5.65h-28.27zM341.11 2001h16.96v5.65h-16.96zM329.8 2136.58h28.27v5.65h-28.27zM341.11 2277.8h16.96v5.65h-16.96zM329.8 2419.03h28.27v5.65h-28.27zM341.11 2560.25h16.96v5.65h-16.96zM329.8 2695.83h28.27v5.65h-28.27zM341.11 2837.05h16.96v5.65h-16.96zM329.8 2978.28h28.27v5.65h-28.27zM341.11 3113.85h16.96v5.65h-16.96zM329.8 3255.08h28.27v5.65h-28.27zM358.07 3260.73h5.65v28.24h-5.65zM533.35 3260.73h5.65v11.3h-5.65zM708.62 3260.73h5.65v28.24h-5.65zM883.89 3260.73h5.65v11.3h-5.65zM1059.17 3260.73h5.65v28.24h-5.65zM1234.44 3260.73h5.65v11.3h-5.65zM1409.72 3260.73h5.65v28.24h-5.65zM1584.99 3260.73h5.65v11.3h-5.65zM1760.26 3260.73h5.65v28.24h-5.65zM1935.54 3260.73h5.65v11.3h-5.65z" fill="#000"/>
<path d="M1375.64 2322.84h5.95v17.25h-5.95zM1375.64 3085.46h5.95v5.95h-5.95zM1375.64 3164.54h5.95v5.95h-5.95zM1443.49 3085.46h11.61v5.95h-11.61zM1443.49 3209.74h11.61v5.95h-11.61zM1511.34 3085.46h22.92v5.95h-22.92zM1601.8 2859.5h5.95v5.95h-5.95zM1601.8 3085.46h5.95v5.95h-5.95zM1765.77 3085.46h11.61v5.95h-11.61zM1941.04 2486.66h5.95v5.95h-5.95zM1941.04 3085.46h5.95v5.95h-5.95zM584.08 1865.27h175.57v5.95h-175.57zM1273.87 2130.78h5.95v11.6h-5.95zM1369.99 2311.55h5.95v11.6h-5.95zM1369.99 3091.11h5.95v5.95h-5.95zM1432.18 3091.11h11.61v5.95h-11.61zM1505.68 2639.19h5.95v11.6h-5.95zM1505.68 2955.53h5.95v5.95h-5.95zM1505.68 3091.11h5.95v5.95h-5.95zM1505.68 3175.84h5.95v5.95h-5.95zM1596.15 2842.55h5.95v17.25h-5.95zM1596.15 3091.11h5.95v5.95h-5.95zM1771.42 3091.11h17.26v5.95h-17.26zM1946.7 3091.11h11.61v5.95h-11.61zM1946.7 3164.54h11.61v5.95h-11.61zM827.21 1876.57h73.8v5.95h-73.8zM1290.83 2159.02h5.95v11.6h-5.95zM1743.15 2842.55h5.95v11.6h-5.95zM1743.15 3062.86h5.95v5.95h-5.95zM1392.61 2362.39h5.95v17.25h-5.95zM1392.61 3068.51h5.95v5.95h-5.95zM1392.61 3153.25h5.95v5.95h-5.95zM2042.82 2362.39h5.95v5.95h-5.95zM2042.82 3147.6h5.95v5.95h-5.95zM1143.83 3204.09h51.19v5.95h-51.19zM1206.02 3204.09h28.57v5.95h-28.57zM1285.18 3204.09h11.61v5.95h-11.61zM1454.8 3079.81h11.61v5.95h-11.61zM1454.8 3204.09h11.61v5.95h-11.61zM1533.95 3204.09h17.26v5.95h-17.26zM1941.04 3204.09h11.61v5.95h-11.61zM2048.47 3204.09h17.26v5.95h-17.26zM1449.14 2503.61h5.95v17.25h-5.95zM1449.14 3012.02h5.95v5.95h-5.95zM1924.08 2509.26h5.95v11.6h-5.95zM1924.08 3074.16h5.95v5.95h-5.95zM1613.11 2870.8h5.95v11.6h-5.95zM1613.11 3068.51h5.95v5.95h-5.95zM1731.84 2865.15h5.95v11.6h-5.95zM1731.84 3051.56h5.95v5.95h-5.95zM968.55 3232.33h119.03v5.95h-119.03zM1177.75 3232.33h39.88v5.95h-39.88zM1369.99 3232.33h28.57v5.95h-28.57zM1669.65 3232.33h34.22v5.95h-34.22zM2054.12 3232.33h28.57v5.95h-28.57zM1115.56 3209.74h51.19v5.95h-51.19zM1177.75 3209.74h28.57v5.95h-28.57zM1268.22 3209.74h17.26v5.95h-17.26zM1550.92 3209.74h17.26v5.95h-17.26zM1952.35 3209.74h22.92v5.95h-22.92zM2065.43 3209.74h17.26v5.95h-17.26zM1454.8 2520.56h5.95v11.6h-5.95zM1454.8 3006.37h5.95v5.95h-5.95zM1918.43 2520.56h5.95v11.6h-5.95zM1918.43 3254.93h5.95v5.95h-5.95zM996.83 1904.82h17.26v5.95h-17.26zM1488.72 2605.29h5.95v11.6h-5.95zM1488.72 2972.48h5.95v5.95h-5.95zM1675.3 2972.48h11.61v11.6h-11.61zM1720.54 2972.48h17.26v5.95h-17.26zM1799.69 2735.22h5.95v11.6h-5.95zM1799.69 2972.48h5.95v5.95h-5.95zM1799.69 3125h5.95v5.95h-5.95zM1296.49 2170.32h5.95v5.95h-5.95zM1234.29 3187.14h22.92v5.95h-22.92zM1268.22 3187.14h11.61v5.95h-11.61zM1336.06 2243.76h5.95v11.6h-5.95zM1336.06 3125h5.95v5.95h-5.95zM1336.06 3187.14h5.95v5.95h-5.95zM1432.18 3187.14h34.22v5.95h-34.22zM1483.07 3062.86h11.61v5.95h-11.61zM1483.07 3102.41h11.61v5.95h-11.61zM1483.07 3187.14h11.61v5.95h-11.61zM1901.46 3187.14h17.26v5.95h-17.26zM1997.58 3187.14h17.26v5.95h-17.26zM1104.25 3215.39h34.22v5.95h-34.22zM1104.25 3243.63h34.22v5.95h-34.22zM1149.48 3215.39h28.57v5.95h-28.57zM1256.91 3215.39h11.61v5.95h-11.61zM1426.53 3215.39h17.26v5.95h-17.26zM1567.88 3215.39h22.92v5.95h-22.92zM1974.97 3215.39h28.57v5.95h-28.57zM1516.99 2661.78h5.95v11.6h-5.95zM1516.99 2944.23h5.95v5.95h-5.95zM1658.34 2944.23h5.95v11.6h-5.95zM1658.34 3006.37h5.95v11.6h-5.95zM1692.27 2938.58h5.95v17.25h-5.95zM1692.27 3000.72h5.95v5.95h-5.95zM1765.77 2797.36h5.95v11.6h-5.95zM1765.77 2944.23h5.95v5.95h-5.95zM1912.77 2944.23h169.92v5.95h-169.92zM1483.07 2588.35h5.95v17.25h-5.95zM1483.07 2978.13h5.95v5.95h-5.95zM1884.5 2588.35h5.95v11.6h-5.95zM1884.5 3040.27h5.95v5.95h-5.95zM1403.91 2390.63h5.95v17.25h-5.95zM1403.91 3057.21h5.95v5.95h-5.95zM2014.55 2390.63h5.95v11.6h-5.95zM1522.65 2938.58h11.61v5.95h-11.61zM1652.69 2938.58h5.95v5.95h-5.95zM1652.69 3017.67h5.95v5.95h-5.95zM1760.11 2808.66h5.95v11.6h-5.95zM1760.11 2938.58h5.95v5.95h-5.95zM657.58 3249.28h237.77v5.95h-237.77zM974.21 3249.28h130.34v5.95h-130.34zM1256.91 3249.28h62.49v5.95h-62.49zM1811 3249.28h107.73v5.95h-107.73zM1302.14 2175.97h5.95v11.6h-5.95zM1302.14 3153.25h5.95v5.95h-5.95zM1313.45 3153.25h11.61v5.95h-11.61zM1533.95 2701.33h5.95v17.25h-5.95zM1533.95 2932.94h5.95v5.95h-5.95zM1533.95 3153.25h5.95v5.95h-5.95zM1839.27 3119.35h11.61v5.95h-11.61zM1839.27 3153.25h11.61v5.95h-11.61zM1924.08 3153.25h11.61v5.95h-11.61zM2048.47 3153.25h11.61v5.95h-11.61zM1098.6 1950.01h11.61v5.95h-11.61zM1420.88 2430.17h5.95v17.25h-5.95zM1420.88 3040.27h5.95v5.95h-5.95zM1528.3 3040.27h11.61v5.95h-11.61zM1635.73 2910.34h5.95v5.95h-5.95zM1635.73 3040.27h5.95v5.95h-5.95zM1720.54 2887.74h5.95v11.6h-5.95zM1720.54 3034.62h5.95v11.6h-5.95zM1494.38 2616.59h5.95v11.6h-5.95zM1494.38 2966.83h5.95v5.95h-5.95zM1867.54 2616.59h5.95v11.6h-5.95zM1867.54 3023.32h5.95v5.95h-5.95zM1177.75 3198.44h45.53v5.95h-45.53zM1234.29 3198.44h17.26v5.95h-17.26zM1296.49 3158.9h17.26v5.95h-17.26zM1296.49 3198.44h17.26v5.95h-17.26zM1466.11 3074.16h11.61v5.95h-11.61zM1466.11 3198.44h11.61v5.95h-11.61zM1505.68 3198.44h28.57v5.95h-28.57zM1929.73 3079.81h11.61v5.95h-11.61zM1929.73 3198.44h11.61v5.95h-11.61zM2031.51 3198.44h17.26v5.95h-17.26zM827.21 3243.63h141.65v5.95h-141.65zM1319.1 3243.63h28.57v5.95h-28.57zM1737.5 3243.63h73.8v5.95h-73.8zM1466.11 2548.8h5.95v11.6h-5.95zM1466.11 2995.07h5.95v5.95h-5.95zM1652.69 2995.07h11.61v5.95h-11.61zM1669.65 2961.18h5.95v11.6h-5.95zM1669.65 2995.07h5.95v5.95h-5.95zM1686.61 2955.53h5.95v11.6h-5.95zM1686.61 2989.43h5.95v11.6h-5.95zM1827.96 2995.07h11.61v5.95h-11.61zM1827.96 3113.7h11.61v5.95h-11.61zM1827.96 3147.6h11.61v5.95h-11.61zM1256.91 3175.84h28.57v5.95h-28.57zM1353.03 3175.84h11.61v5.95h-11.61zM1878.85 3175.84h11.61v5.95h-11.61zM1969.31 3108.05h11.61v5.95h-11.61zM1969.31 3175.84h11.61v5.95h-11.61zM928.98 3237.98h107.73v5.95h-107.73zM1138.17 3237.98h39.88v5.95h-39.88zM1347.37 3237.98h22.92v5.95h-22.92zM1703.57 3237.98h34.22v5.95h-34.22zM1109.9 1955.66h5.95v5.95h-5.95zM1036.4 3226.68h79.46v5.95h-79.46zM1217.33 3226.68h22.92v5.95h-22.92zM1398.26 3226.68h17.26v5.95h-17.26zM1624.42 3226.68h45.53v5.95h-45.53zM2025.85 3226.68h28.57v5.95h-28.57zM1319.1 2209.86h5.95v11.6h-5.95zM1319.1 3136.3h5.95v5.95h-5.95zM1347.37 3136.3h17.26v5.95h-17.26zM1420.88 3096.76h11.61v5.95h-11.61zM1420.88 3136.3h11.61v5.95h-11.61zM1550.92 2740.87h5.95v11.6h-5.95zM1550.92 3136.3h5.95v5.95h-5.95zM1811 3136.3h11.61v5.95h-11.61zM1873.19 3136.3h17.26v5.95h-17.26zM2025.85 2379.33h5.95v5.95h-5.95zM2025.85 3136.3h5.95v5.95h-5.95zM1245.6 3181.49h22.92v5.95h-22.92zM1279.52 3181.49h152.96v5.95h-152.96zM1494.38 3057.21h11.61v5.95h-11.61zM1494.38 3096.76h11.61v5.95h-11.61zM1494.38 3181.49h11.61v5.95h-11.61zM1890.16 3181.49h11.61v5.95h-11.61zM1980.62 3181.49h17.26v5.95h-17.26zM1386.95 2351.09h5.95v11.6h-5.95zM1386.95 3074.16h5.95v5.95h-5.95zM1386.95 3119.35h5.95v5.95h-5.95zM1556.57 3074.16h11.61v5.95h-11.61zM1607.46 2865.15h5.95v5.95h-5.95zM1607.46 3074.16h5.95v11.6h-5.95zM1714.88 3074.16h28.57v5.95h-28.57zM1754.46 2819.96h5.95v11.6h-5.95zM1754.46 2932.94h5.95v5.95h-5.95zM1754.46 3074.16h5.95v5.95h-5.95zM1500.03 2627.89h5.95v11.6h-5.95zM1500.03 2961.18h5.95v5.95h-5.95zM1861.89 2627.89h5.95v11.6h-5.95zM1861.89 3017.67h5.95v5.95h-5.95zM1307.79 2187.27h5.95v11.6h-5.95zM1307.79 3147.6h5.95v5.95h-5.95zM1364.34 2300.25h5.95v11.6h-5.95zM1364.34 3096.76h5.95v5.95h-5.95zM1590.49 2825.6h5.95v17.25h-5.95zM1590.49 3096.76h5.95v5.95h-5.95zM1777.08 2774.76h5.95v11.6h-5.95zM1777.08 3096.76h5.95v11.6h-5.95zM1788.38 3096.76h11.61v5.95h-11.61zM1958 2458.42h5.95v11.6h-5.95zM1958 3096.76h5.95v5.95h-5.95zM1816.65 2701.33h5.95v11.6h-5.95zM1816.65 2983.78h5.95v5.95h-5.95zM1562.22 2910.34h11.61v5.95h-11.61zM1709.23 2910.34h17.26v5.95h-17.26zM1313.45 2198.57h5.95v11.6h-5.95zM1313.45 3141.95h5.95v5.95h-5.95zM923.32 1887.87h17.26v5.95h-17.26zM1398.26 2379.33h5.95v11.6h-5.95zM1398.26 3062.86h5.95v5.95h-5.95zM1596.15 3062.86h107.73v5.95h-107.73zM1907.12 2548.8h5.95v11.6h-5.95zM1907.12 3062.86h5.95v5.95h-5.95zM1211.68 3192.79h28.57v5.95h-28.57zM1251.25 3192.79h17.26v5.95h-17.26zM1313.45 3192.79h22.92v5.95h-22.92zM1466.11 3192.79h39.88v5.95h-39.88zM1918.43 3192.79h11.61v5.95h-11.61zM2014.55 3192.79h17.26v5.95h-17.26zM1341.72 2255.06h5.95v11.6h-5.95zM1341.72 3119.35h5.95v5.95h-5.95zM1449.14 3119.35h11.61v5.95h-11.61zM1567.88 2780.41h5.95v11.6h-5.95zM1567.88 3119.35h5.95v5.95h-5.95zM1794.04 2746.52h5.95v11.6h-5.95zM1794.04 2966.83h5.95v5.95h-5.95zM1794.04 3119.35h5.95v5.95h-5.95zM1991.93 3119.35h11.61v5.95h-11.61zM1381.3 2339.79h5.95v11.6h-5.95zM1381.3 3079.81h5.95v5.95h-5.95zM1533.95 3079.81h22.92v5.95h-22.92zM1743.15 3079.81h22.92v5.95h-22.92zM1601.8 2893.39h79.46v5.95h-79.46zM1511.34 2650.49h5.95v11.6h-5.95zM1511.34 2949.88h5.95v5.95h-5.95zM1771.42 2786.06h5.95v11.6h-5.95zM1771.42 2949.88h5.95v5.95h-5.95zM1844.92 2949.88h68.15v5.95h-68.15zM1353.03 2277.65h5.95v11.6h-5.95zM1353.03 3108.05h5.95v5.95h-5.95zM1403.91 3108.05h11.61v5.95h-11.61zM1471.76 3108.05h11.61v5.95h-11.61zM1579.19 2803.01h5.95v11.6h-5.95zM1579.19 3108.05h5.95v5.95h-5.95zM1782.73 2763.47h5.95v11.6h-5.95zM1782.73 3108.05h5.95v5.95h-5.95zM1811 3108.05h17.26v5.95h-17.26zM1059.02 1927.41h11.61v5.95h-11.61zM1166.44 2000.85h11.61v5.95h-11.61zM1556.57 2752.17h5.95v17.25h-5.95zM1556.57 3130.65h5.95v5.95h-5.95zM1375.64 3125h11.61v5.95h-11.61zM1437.84 3125h11.61v5.95h-11.61zM1562.22 2769.11h5.95v11.6h-5.95zM1562.22 3125h5.95v5.95h-5.95zM1850.58 3125h11.61v5.95h-11.61zM2003.24 3125h11.61v5.95h-11.61zM1013.79 1910.47h22.92v5.95h-22.92zM1573.53 2791.71h5.95v11.6h-5.95zM1573.53 3113.7h5.95v5.95h-5.95zM1647.03 2927.29h5.95v11.6h-5.95zM1647.03 3023.32h5.95v11.6h-5.95zM1697.92 2927.29h5.95v11.6h-5.95zM1697.92 3006.37h5.95v11.6h-5.95zM1426.53 2447.12h5.95v17.25h-5.95zM1426.53 3034.62h5.95v5.95h-5.95zM1969.31 2447.12h5.95v5.95h-5.95zM759.36 1870.92h68.15v5.95h-68.15zM1680.96 2966.83h5.95v5.95h-5.95zM1737.5 2966.83h22.92v5.95h-22.92zM651.93 3254.93h5.95v5.95h-5.95zM968.55 3254.93h5.95v5.95h-5.95zM1251.25 2096.88h5.95v5.95h-5.95zM1251.25 3254.93h5.95v5.95h-5.95zM1545.26 2729.57h5.95v11.6h-5.95zM1545.26 2921.64h5.95v5.95h-5.95zM1545.26 3141.95h5.95v5.95h-5.95zM1641.38 2915.99h5.95v11.6h-5.95zM1641.38 3034.62h5.95v5.95h-5.95zM1703.57 2915.99h5.95v11.6h-5.95zM1703.57 3017.67h5.95v5.95h-5.95zM1737.5 2921.64h11.61v5.95h-11.61zM1878.85 2599.64h5.95v11.6h-5.95zM1878.85 3034.62h5.95v5.95h-5.95zM1245.6 2085.59h5.95v11.6h-5.95zM1584.84 2899.04h17.26v5.95h-17.26zM1630.07 2899.04h5.95v11.6h-5.95zM1630.07 3045.92h5.95v11.6h-5.95zM1680.96 2899.04h22.92v5.95h-22.92zM1714.88 2899.04h5.95v5.95h-5.95zM1714.88 3028.97h5.95v5.95h-5.95zM1471.76 2560.1h5.95v17.25h-5.95zM1471.76 2989.43h5.95v5.95h-5.95zM1895.81 2565.75h5.95v11.6h-5.95zM1895.81 3051.56h5.95v5.95h-5.95zM1262.56 2113.83h5.95v5.95h-5.95zM1460.45 2531.86h5.95v17.25h-5.95zM1460.45 3000.72h5.95v5.95h-5.95zM1630.07 3000.72h22.92v5.95h-22.92zM1664 2955.53h5.95v5.95h-5.95zM1664 3000.72h5.95v5.95h-5.95zM1839.27 2667.43h5.95v5.95h-5.95zM1839.27 3000.72h5.95v5.95h-5.95zM1409.57 2407.58h5.95v11.6h-5.95zM1409.57 3051.56h5.95v5.95h-5.95zM1505.68 3051.56h11.61v5.95h-11.61zM1477.41 2577.05h5.95v11.6h-5.95zM1477.41 2983.78h5.95v5.95h-5.95zM1477.41 3068.51h5.95v5.95h-5.95zM1567.88 3068.51h28.57v5.95h-28.57zM1703.57 3068.51h11.61v5.95h-11.61zM1748.81 2831.25h5.95v11.6h-5.95zM1748.81 2927.29h5.95v5.95h-5.95zM1748.81 3068.51h5.95v5.95h-5.95zM1912.77 3068.51h11.61v5.95h-11.61zM2031.51 2373.68h5.95v5.95h-5.95zM1268.22 2119.48h5.95v11.6h-5.95zM2054.12 2351.09h5.95v5.95h-5.95zM1336.06 3141.95h11.61v5.95h-11.61zM1409.57 3141.95h11.61v5.95h-11.61zM1822.31 2690.03h5.95v11.6h-5.95zM1822.31 2989.43h5.95v5.95h-5.95zM1822.31 3141.95h5.95v5.95h-5.95zM1890.16 3141.95h17.26v5.95h-17.26zM2031.51 3141.95h11.61v5.95h-11.61zM1539.61 3034.62h11.61v5.95h-11.61zM1070.33 3221.03h39.88v5.95h-39.88zM1115.56 3221.03h34.22v5.95h-34.22zM1239.95 3221.03h17.26v5.95h-17.26zM1415.22 3221.03h11.61v5.95h-11.61zM1590.49 3221.03h34.22v5.95h-34.22zM2003.24 3221.03h22.92v5.95h-22.92zM1415.22 2418.88h5.95v11.6h-5.95zM1415.22 3045.92h5.95v5.95h-5.95zM1415.22 3102.41h5.95v5.95h-5.95zM1516.99 3045.92h11.61v5.95h-11.61zM1726.19 2876.45h5.95v11.6h-5.95zM1726.19 3045.92h5.95v5.95h-5.95zM1890.16 2577.05h5.95v11.6h-5.95zM1890.16 3045.92h5.95v5.95h-5.95zM1997.58 2413.23h5.95v5.95h-5.95zM1324.76 3130.65h11.61v5.95h-11.61zM1324.76 3147.6h11.61v5.95h-11.61zM1364.34 3130.65h11.61v5.95h-11.61zM1364.34 3170.19h11.61v5.95h-11.61zM1432.18 2464.07h5.95v11.6h-5.95zM1432.18 3028.97h5.95v5.95h-5.95zM1432.18 3130.65h5.95v5.95h-5.95zM1805.35 2723.92h5.95v11.6h-5.95zM1805.35 3130.65h5.95v5.95h-5.95zM1861.89 3130.65h11.61v5.95h-11.61zM2014.55 3130.65h11.61v5.95h-11.61zM1986.27 2424.53h5.95v11.6h-5.95zM1624.42 2887.74h5.95v5.95h-5.95zM1624.42 3057.21h5.95v5.95h-5.95zM1285.18 2147.72h5.95v11.6h-5.95zM968.55 1899.17h28.57v5.95h-28.57zM1550.92 3028.97h22.92v5.95h-22.92zM1873.19 2610.94h5.95v5.95h-5.95zM1873.19 3028.97h5.95v5.95h-5.95zM1929.73 2503.61h5.95v5.95h-5.95zM2071.09 2328.49h5.95v11.6h-5.95zM1760.11 2961.18h45.53v5.95h-45.53zM1573.53 2904.69h11.61v5.95h-11.61zM1573.53 3023.32h11.61v5.95h-11.61zM1703.57 2904.69h17.26v5.95h-17.26zM1703.57 2978.13h17.26v5.95h-17.26zM1443.49 2492.31h5.95v11.6h-5.95zM1443.49 3017.67h5.95v5.95h-5.95zM1935.39 2492.31h5.95v11.6h-5.95zM1737.5 2853.85h5.95v11.6h-5.95zM1737.5 3057.21h5.95v5.95h-5.95zM1901.46 2560.1h5.95v5.95h-5.95zM1901.46 3057.21h5.95v5.95h-5.95zM1347.37 2266.35h5.95v11.6h-5.95zM1347.37 3113.7h5.95v5.95h-5.95zM1392.61 3113.7h11.61v5.95h-11.61zM1460.45 3113.7h11.61v5.95h-11.61zM1788.38 2757.82h5.95v5.95h-5.95zM1788.38 3113.7h5.95v5.95h-5.95zM1980.62 3113.7h11.61v5.95h-11.61zM1522.65 2673.08h5.95v17.25h-5.95zM1522.65 3164.54h5.95v5.95h-5.95zM1827.96 2684.38h5.95v5.95h-5.95zM1528.3 2690.03h5.95v11.6h-5.95zM1528.3 3158.9h5.95v5.95h-5.95zM1777.08 2955.53h11.61v5.95h-11.61zM1805.35 2955.53h39.88v5.95h-39.88zM1912.77 2531.86h5.95v17.25h-5.95zM1437.84 2475.37h5.95v17.25h-5.95zM1437.84 3023.32h5.95v5.95h-5.95zM1709.23 3023.32h5.95v5.95h-5.95zM1664 2989.43h17.26v5.95h-17.26zM1290.83 3164.54h11.61v5.95h-11.61zM1856.23 3164.54h11.61v5.95h-11.61zM2071.09 3164.54h11.61v5.95h-11.61zM1584.84 2814.31h5.95v11.6h-5.95zM1584.84 3102.41h5.95v5.95h-5.95zM1844.92 2656.13h5.95v11.6h-5.95zM1381.3 3158.9h11.61v5.95h-11.61zM1850.58 2644.84h5.95v11.6h-5.95zM1850.58 3158.9h5.95v5.95h-5.95zM1935.39 3158.9h11.61v5.95h-11.61zM2059.78 3158.9h11.61v5.95h-11.61zM1596.15 3012.02h17.26v5.95h-17.26zM1856.23 2639.19h5.95v5.95h-5.95zM1856.23 3012.02h5.95v5.95h-5.95zM1132.52 1972.61h11.61v5.95h-11.61zM1675.3 2983.78h28.57v5.95h-28.57zM1279.52 3170.19h11.61v5.95h-11.61zM1511.34 3170.19h11.61v5.95h-11.61zM1867.54 3170.19h11.61v5.95h-11.61zM1958 3170.19h11.61v5.95h-11.61zM1398.26 3147.6h11.61v5.95h-11.61zM1539.61 2718.27h5.95v11.6h-5.95zM1539.61 2927.29h5.95v5.95h-5.95zM1539.61 3147.6h5.95v5.95h-5.95zM1907.12 3147.6h17.26v5.95h-17.26zM1980.62 2435.82h5.95v5.95h-5.95zM1584.84 3017.67h11.61v5.95h-11.61zM1217.33 2046.04h5.95v11.6h-5.95zM1047.71 1921.76h11.61v5.95h-11.61zM1358.68 2288.95h5.95v11.6h-5.95zM1358.68 3102.41h5.95v5.95h-5.95zM2020.2 2384.98h5.95v5.95h-5.95zM940.28 1893.52h28.57v5.95h-28.57zM1799.69 3102.41h11.61v5.95h-11.61zM1963.66 2452.77h5.95v5.95h-5.95zM1963.66 3102.41h5.95v5.95h-5.95zM1946.7 2475.37h5.95v11.6h-5.95zM1805.35 2978.13h11.61v5.95h-11.61zM1143.83 1978.25h5.95v5.95h-5.95zM1149.48 1983.9h5.95v5.95h-5.95zM1952.35 2469.72h5.95v5.95h-5.95zM1833.62 2673.08h5.95v11.6h-5.95zM1330.41 2232.46h5.95v11.6h-5.95zM1228.64 2062.99h5.95v11.6h-5.95zM1991.93 2418.88h5.95v5.95h-5.95zM1811 2712.62h5.95v11.6h-5.95zM1115.56 1961.31h11.61v5.95h-11.61zM1126.87 1966.96h5.95v5.95h-5.95zM2037.16 2368.04h5.95v5.95h-5.95zM900.71 1882.22h22.92v5.95h-22.92zM1324.76 2221.16h5.95v11.6h-5.95zM2048.47 2356.74h5.95v5.95h-5.95zM1550.92 2915.99h11.61v5.95h-11.61zM1726.19 2915.99h11.61v5.95h-11.61zM1239.95 2079.94h5.95v5.95h-5.95zM2003.24 2407.58h5.95v5.95h-5.95zM1974.97 2441.47h5.95v5.95h-5.95zM2059.78 2345.44h5.95v5.95h-5.95zM1613.11 3006.37h17.26v5.95h-17.26zM1844.92 3006.37h11.61v5.95h-11.61zM1618.76 2882.09h5.95v5.95h-5.95zM1256.91 2102.53h5.95v11.6h-5.95zM1081.63 1938.71h11.61v5.95h-11.61zM1036.4 1916.12h11.61v5.95h-11.61zM1160.79 1995.2h5.95v5.95h-5.95zM2008.89 2401.93h5.95v5.95h-5.95zM1200.37 2029.1h5.95v5.95h-5.95zM1206.02 2034.74h5.95v5.95h-5.95zM1279.52 2142.08h5.95v5.95h-5.95zM1070.33 1933.06h11.61v5.95h-11.61zM1092.94 1944.36h5.95v5.95h-5.95zM2065.43 2339.79h5.95v5.95h-5.95zM1211.68 2040.39h5.95v5.95h-5.95zM1222.98 2057.34h5.95v5.95h-5.95zM1183.41 2012.15h5.95v5.95h-5.95zM1177.75 2006.5h5.95v5.95h-5.95zM1155.14 1989.55h5.95v5.95h-5.95zM1234.29 2074.29h5.95v5.95h-5.95zM1189.06 2017.8h5.95v5.95h-5.95zM1194.71 2023.45h5.95v5.95h-5.95z" fill="#000"/>
<path d="M1630.07 2876.45h5.95v11.6h-5.95zM1777.08 2876.45h5.95v11.6h-5.95zM1980.62 2870.8h5.95v22.9h-5.95zM1980.62 3108.05h5.95v22.9h-5.95zM1477.41 3130.65h5.95v11.6h-5.95zM1969.31 2893.39h11.61v5.95h-11.61zM1969.31 2915.99h11.61v5.95h-11.61zM1969.31 3130.65h11.61v5.95h-11.61zM1969.31 3147.6h11.61v11.6h-11.61zM1545.26 3017.67h5.95v11.6h-5.95zM1483.07 3119.35h5.95v11.6h-5.95zM1641.38 2859.5h5.95v5.95h-5.95zM1794.04 2853.85h5.95v11.6h-5.95zM1986.27 2848.2h5.95v22.9h-5.95zM1986.27 3085.46h5.95v22.9h-5.95zM1460.45 3147.6h22.92v5.95h-22.92zM1466.11 3141.95h11.61v5.95h-11.61zM1969.31 2904.69h17.26v11.6h-17.26zM1969.31 3136.3h17.26v11.6h-17.26zM1680.96 2791.71h5.95v11.6h-5.95zM1844.92 2791.71h5.95v5.95h-5.95zM1528.3 3045.92h5.95v11.6h-5.95zM1997.58 2808.66h5.95v22.9h-5.95zM1997.58 3045.92h5.95v17.25h-5.95zM1635.73 2865.15h5.95v11.6h-5.95zM1788.38 2865.15h5.95v5.95h-5.95zM1567.88 2978.13h5.95v11.6h-5.95zM1618.76 2893.39h5.95v11.6h-5.95zM1760.11 2887.74h17.26v11.6h-17.26zM1522.65 3057.21h5.95v5.95h-5.95zM1613.11 2904.69h5.95v11.6h-5.95zM1754.46 2904.69h17.26v5.95h-17.26zM1460.45 3158.9h11.61v5.95h-11.61zM1969.31 2921.64h5.95v17.25h-5.95zM1969.31 3158.9h5.95v17.25h-5.95zM1466.11 3136.3h5.95v5.95h-5.95zM1460.45 3153.25h17.26v5.95h-17.26zM1601.8 2921.64h5.95v11.6h-5.95zM1743.15 2921.64h5.95v5.95h-5.95zM1754.46 2899.04h22.92v5.95h-22.92zM1969.31 2899.04h22.92v5.95h-22.92zM1754.46 2910.34h11.61v5.95h-11.61zM1454.8 3164.54h11.61v5.95h-11.61zM1664 2819.96h5.95v11.6h-5.95zM1822.31 2819.96h5.95v5.95h-5.95zM1658.34 2831.25h5.95v11.6h-5.95zM1811 2831.25h5.95v11.6h-5.95zM1991.93 2831.25h5.95v17.25h-5.95zM1991.93 3062.86h5.95v22.9h-5.95zM1500.03 3091.11h5.95v11.6h-5.95zM1669.65 2814.31h5.95v5.95h-5.95zM1827.96 2808.66h5.95v11.6h-5.95zM1454.8 3170.19h5.95v11.6h-5.95zM1516.99 3062.86h5.95v11.6h-5.95zM1652.69 2842.55h5.95v5.95h-5.95zM1805.35 2842.55h5.95v5.95h-5.95zM1782.73 2870.8h5.95v5.95h-5.95zM1511.34 3074.16h5.95v11.6h-5.95zM1624.42 2887.74h5.95v5.95h-5.95zM1590.49 2944.23h5.95v5.95h-5.95zM1584.84 2949.88h5.95v11.6h-5.95zM1873.19 2757.82h5.95v5.95h-5.95zM1686.61 2786.06h5.95v5.95h-5.95zM1850.58 2780.41h5.95v11.6h-5.95zM1839.27 2797.36h5.95v5.95h-5.95zM1562.22 2989.43h5.95v11.6h-5.95zM1494.38 3102.41h5.95v11.6h-5.95zM1675.3 2803.01h5.95v11.6h-5.95zM1607.46 2915.99h5.95v5.95h-5.95zM1748.81 2915.99h11.61v5.95h-11.61zM1647.03 2848.2h5.95v11.6h-5.95zM1799.69 2848.2h5.95v5.95h-5.95zM1816.65 2825.6h5.95v5.95h-5.95zM1505.68 3085.46h5.95v5.95h-5.95zM1867.54 2763.47h5.95v5.95h-5.95zM1833.62 2803.01h5.95v5.95h-5.95zM2003.24 2803.01h5.95v5.95h-5.95zM2003.24 3034.62h5.95v11.6h-5.95zM1692.27 2774.76h5.95v11.6h-5.95zM1596.15 2932.94h5.95v11.6h-5.95zM1539.61 3028.97h5.95v5.95h-5.95zM1533.95 3034.62h5.95v11.6h-5.95zM1697.92 2769.11h5.95v5.95h-5.95zM1861.89 2769.11h5.95v5.95h-5.95zM1579.19 2961.18h5.95v11.6h-5.95zM1856.23 2774.76h5.95v5.95h-5.95zM1488.72 3113.7h5.95v5.95h-5.95zM1556.57 3000.72h5.95v5.95h-5.95zM1550.92 3006.37h5.95v11.6h-5.95zM1573.53 2972.48h5.95v5.95h-5.95z" fill="#000"/>
</g>
<g id="labels-a">
<text transform="translate(212.73 121.2) scale(1.06 1)" font-size="72">1<tspan class="l">00</tspan></text>
<text transform="translate(250.89 392.82) scale(1.06 1)" font-size="72"><tspan class="l">80</tspan></text>
<text transform="translate(250.89 669.99) scale(1.06 1)" font-size="72"><tspan class="l">60</tspan></text>
<text transform="translate(250.89 941.61) scale(1.06 1)" font-size="72">4<tspan class="l">0</tspan></text>
<text transform="translate(250.89 1218.77) scale(1.06 1)" font-size="72">2<tspan class="l">0</tspan></text>
<text transform="translate(289.05 1490.4) scale(1.06 1)" font-size="72"><tspan class="l">0</tspan></text>
<text transform="translate(349.92 1573.6) scale(1.06 1)" font-size="72"><tspan class="l">6</tspan></text>
<text transform="translate(693 1573.6) scale(1.06 1)" font-size="72"><tspan class="l">7</tspan></text>
<text transform="translate(1038.92 1573.6) scale(1.06 1)" font-size="72"><tspan class="l">8</tspan></text>
<text transform="translate(1383.26 1573.6) scale(1.06 1)" font-size="72"><tspan class="l">9</tspan></text>
<text transform="translate(1709.34 1573.6) scale(1.06 1)" font-size="72">1<tspan class="l">0</tspan></text>
<text x="1492.72" y="1619.5" font-size="100.5">pH</text>
<text transform="translate(155 1045.3) rotate(-90) scale(1.05 1)" font-size="102" x="-9.03 54.8 118.64 193.4">% CH<tspan class="s" font-size="56" x="264.47" dy="24">3</tspan><tspan x="299.4 374.55" dy="-24">Hg</tspan><tspan class="s" font-size="58" x="420.27" dy="-37">+</tspan></text>
<text y="177" font-size="60"><tspan class="p" x="1896.86">(</tspan><tspan x="1922.07">a</tspan><tspan class="p" x="1956.57">)</tspan></text>
<text class="c" x="1901.54" y="310.3" font-size="65.5">3</text>
<text class="c" x="899.76" y="199.3" font-size="65.5">6</text>
<text class="c" x="741.75" y="1353.3" font-size="65.5">2</text>
<text class="c" x="938.1" y="1212.8" font-size="65.5">4</text>
<text class="c" x="1065.75" y="1131.3" font-size="65.5">1</text>
<text class="c" x="1170.88" y="1053.3" font-size="65.5">5</text>
</g>
<g id="labels-b">
<text transform="translate(195.88 1880.4) scale(1.06 1)" font-size="73">1<tspan class="l">00</tspan></text>
<text transform="translate(234.57 2157.2) scale(1.06 1)" font-size="73"><tspan class="l">80</tspan></text>
<text transform="translate(234.57 2439.65) scale(1.06 1)" font-size="73"><tspan class="l">60</tspan></text>
<text transform="translate(234.57 2716.45) scale(1.06 1)" font-size="73">4<tspan class="l">0</tspan></text>
<text transform="translate(234.57 2998.9) scale(1.06 1)" font-size="73">2<tspan class="l">0</tspan></text>
<text transform="translate(273.26 3275.7) scale(1.06 1)" font-size="73"><tspan class="l">0</tspan></text>
<text transform="translate(335.34 3360.5) scale(1.06 1)" font-size="73"><tspan class="l">6</tspan></text>
<text transform="translate(684.72 3360.5) scale(1.06 1)" font-size="73"><tspan class="l">7</tspan></text>
<text transform="translate(1036.86 3360.5) scale(1.06 1)" font-size="73"><tspan class="l">8</tspan></text>
<text transform="translate(1387.5 3360.5) scale(1.06 1)" font-size="73"><tspan class="l">9</tspan></text>
<text transform="translate(1720.79 3360.5) scale(1.06 1)" font-size="73">1<tspan class="l">0</tspan></text>
<text x="1489.69" y="3476" font-size="103.5">pH</text>
<text transform="translate(137.5 2826.2) rotate(-90) scale(1.05 1)" font-size="104.5" x="-9.29 57.19 123.66 200.02">% CH<tspan class="s" font-size="57.5" x="272.6" dy="24.5">3</tspan><tspan x="307.55 385.82" dy="-24.5">Hg</tspan><tspan class="s" font-size="59.5" x="430.67" dy="-38">+</tspan></text>
<text y="1921" font-size="62"><tspan class="p" x="1898.78">(</tspan><tspan x="1919.71">b</tspan><tspan class="p" x="1960">)</tspan></text>
<text class="c" x="1950.5" y="2373.8" font-size="66.5">3</text>
<text class="c" x="1278.23" y="2050.3" font-size="66.5">6</text>
<text class="c" x="1673.71" y="2723.3" font-size="66.5">2</text>
<text class="c" x="1864.84" y="2734.8" font-size="66.5">5</text>
<text class="c" x="1988.09" y="2768.3" font-size="66.5">4</text>
<text class="c" x="1992.17" y="3005.8" font-size="66.5">1</text>
</g>
</g>
</svg>
</body></html>
